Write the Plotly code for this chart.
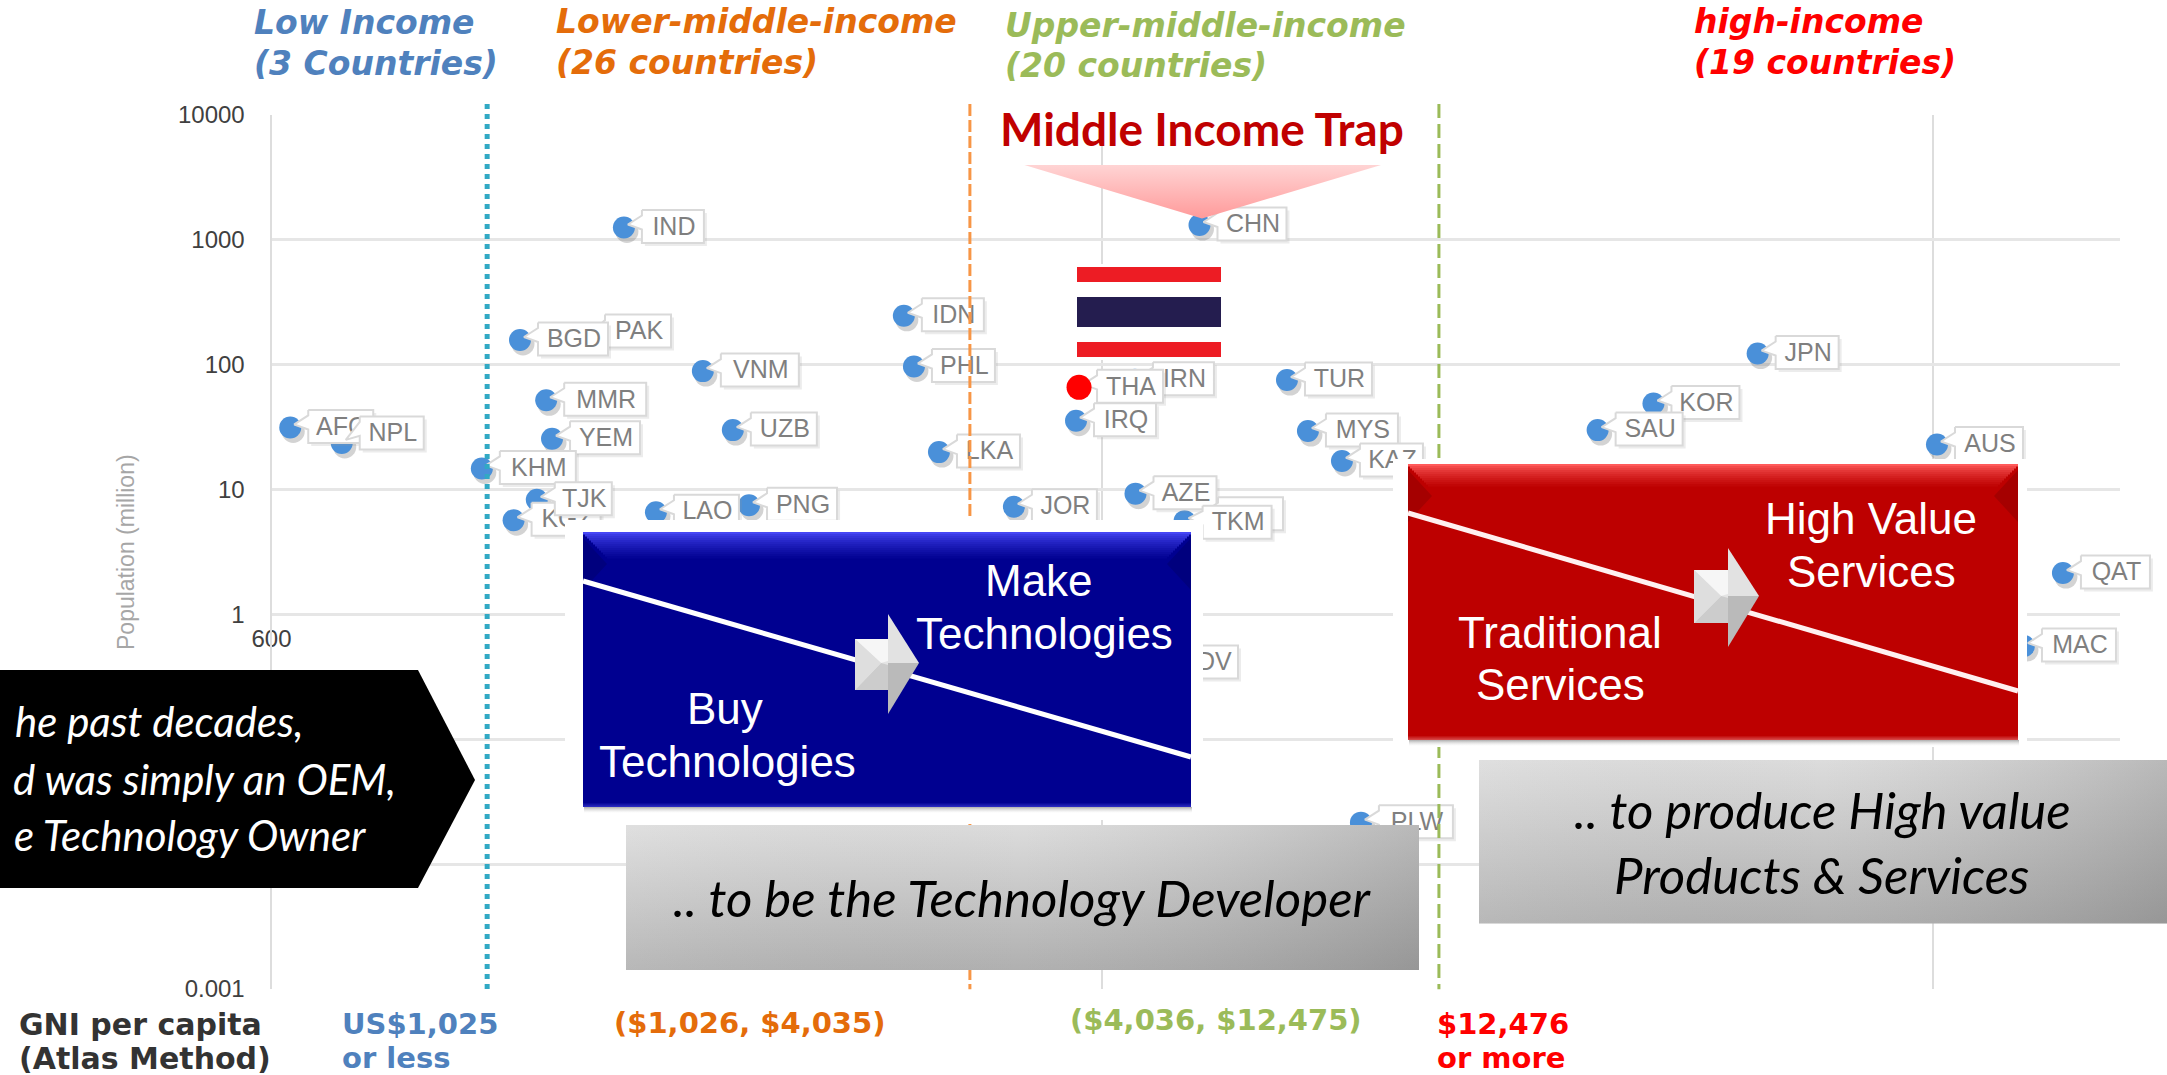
import math
import plotly.graph_objects as go

# ---------- data ----------
COUNTRIES = ["AFG","NPL","IND","PAK","BGD","VNM","MMR","YEM","UZB","KHM","KGZ","TJK","LAO","PNG",
             "IDN","PHL","LKA","JOR","CHN","TUR","IRN","THA","IRQ","MYS","KAZ","AZE","","TKM","MDV",
             "JPN","KOR","SAU","AUS","QAT","MAC","PLW"]
GNI = [632,729,1594,1439,1195,1984,1285,1306,2156,1075,1174,1252,1742,2255,
       3464,3562,3818,4700,7862,10020,6574,5630,5583,10620,11670,6584,7873,7544,6854,
       36950,27680,23710,60750,86140,77320,12300]
POP = [31.5,23.7,1257,170,158,89,52,25.6,30,14.8,5.7,8.3,6.6,7.5,
       247,97,20,7.3,1315,75.5,76,66,35.7,29.5,17,9.3,6.3,5.6,0.41,
       123,49,30,23,2.15,0.56,0.0216]
LABEL_WIDTHS = [65,64,62,66,70,78,82,70,66,76,69,57,65,70,
                62,63,63,65,69,67,61,66,62,72,63,63,65,69,70,
                63,68,67,68,69,74,74]
THRESHOLDS = [1091, 4160, 15270]
THRESHOLD_COLORS = ["#31a9c4", "#f79646", "#9bbb59"]
THRESHOLD_DASH = ["5px,5px", "12px,4px", "14px,6px"]
Y_TICKS = [0.001, 0.01, 0.1, 1, 10, 100, 1000, 10000]
Y_TICK_TEXT = ["0.001", "", "", "1", "10", "100", "1000", "10000"]
X_TICKS = [600, 6000, 60000]
X_TICK_SHOWN = [600]

W, H = 2167, 1075
# axis calibration (pixels)
X0_PX, X1_PX, DEC_X = 271.5, 2120.0, 830.5
Y_TOP_PX, Y_BOT_PX, DEC_Y = 115.0, 989.0, 124.9
LX0 = math.log10(600)

def gni_at(px):
    return 10 ** (LX0 + (px - X0_PX) / DEC_X)
def pop_at(py):
    return 10 ** (4 - (py - Y_TOP_PX) / DEC_Y)
def px_of(g):
    return X0_PX + (math.log10(g) - LX0) * DEC_X
def py_of(p):
    return Y_TOP_PX + (4 - math.log10(p)) * DEC_Y

fig = go.Figure()
SKIP = dict(hoverinfo="skip", showlegend=False)

# ---------- visible axes ----------
fig.add_trace(go.Scatter(x=X_TICK_SHOWN, y=[pop_at(641)], text=[str(v) for v in X_TICK_SHOWN], mode="text",
                         textfont=dict(family="Liberation Sans", size=24, color="#404040"),
                         cliponaxis=False, xaxis="x", yaxis="y", **SKIP))

# ---------- markers, on an invisible page-wide log pair aligned with the axes ----------
AX2 = dict(xaxis="x2", yaxis="y2", cliponaxis=False)
mk = [i for i, c in enumerate(COUNTRIES) if c and c != "THA"]
fig.add_trace(go.Scatter(x=[gni_at(px_of(GNI[i]) + 3) for i in mk], y=[pop_at(py_of(POP[i]) + 4) for i in mk],
                         mode="markers", marker=dict(size=23, color="rgba(110,110,110,0.30)", line=dict(width=0)),
                         **AX2, **SKIP))
fig.add_trace(go.Scatter(x=[GNI[i] for i in mk], y=[POP[i] for i in mk], mode="markers",
                         marker=dict(size=22, color="#4a90d9", line=dict(width=0)), **AX2, **SKIP))

# ---------- callout labels ----------
LABEL_DY = {"NPL": -9, "PAK": -4, "TKM": 2}
for c, g, p, w in zip(COUNTRIES, GNI, POP, LABEL_WIDTHS):
    mx, my = px_of(g), py_of(p)
    l = mx + 18
    r = l + w
    cy = my - 1 + LABEL_DY.get(c, 0)
    t, b = cy - 16.5, cy + 16.5
    xs_s = [l + 3, r + 3, r + 3, l + 3, l + 3]
    ys_s = [t + 3, t + 3, b + 3, b + 3, t + 3]
    fig.add_trace(go.Scatter(x=[gni_at(v) for v in xs_s], y=[pop_at(v) for v in ys_s], mode="lines",
                             fill="toself", fillcolor="rgba(150,150,150,0.18)", line=dict(width=0), **AX2, **SKIP))
    xs = [l, r, r, l, l, mx + 4, l, l]
    ys = [t, t, b, b, cy + 3, my - 3, cy - 11, t]
    fig.add_trace(go.Scatter(x=[gni_at(v) for v in xs], y=[pop_at(v) for v in ys], mode="lines",
                             fill="toself", fillcolor="#ffffff", line=dict(color="#d9d9d9", width=2), **AX2, **SKIP))
    if c:
        fig.add_trace(go.Scatter(x=[gni_at(l + w / 2 + 1)], y=[pop_at(cy + 2)], text=[c], mode="text",
                                 textposition="middle center",
                                 textfont=dict(family="Liberation Sans", size=25, color="#7f7f7f"), **AX2, **SKIP))

# Thailand marker sits on top of its neighbours
ti = COUNTRIES.index("THA")
fig.add_trace(go.Scatter(x=[GNI[ti]], y=[POP[ti]], mode="markers",
                         marker=dict(size=25, color="#ff0000", line=dict(width=0)), **AX2, **SKIP))

# income thresholds
for xv, col, dash, wd in zip(THRESHOLDS, THRESHOLD_COLORS, THRESHOLD_DASH, [5, 3, 3]):
    fig.add_trace(go.Scatter(x=[xv, xv], y=[pop_at(104), 0.001], mode="lines",
                             line=dict(color=col, width=wd, dash=dash), **AX2, **SKIP))

# ---------- slide decoration in page pixels ----------
AX3 = dict(xaxis="x3", yaxis="y3")
def poly(pts, fill=None, vgrad=None, hgrad=None):
    xs = [p[0] for p in pts] + [pts[0][0]]
    ys = [p[1] for p in pts] + [pts[0][1]]
    kw = {}
    if fill:
        kw["fillcolor"] = fill
    if vgrad:
        kw["fillgradient"] = dict(type="vertical", colorscale=vgrad, start=min(ys), stop=max(ys))
    if hgrad:
        kw["fillgradient"] = dict(type="horizontal", colorscale=hgrad, start=min(xs), stop=max(xs))
    fig.add_trace(go.Scatter(x=xs, y=ys, mode="lines", fill="toself", line=dict(width=0), **kw, **AX3, **SKIP))
def rect(x0, y0, x1, y1, **kw):
    poly([(x0, y0), (x1, y0), (x1, y1), (x0, y1)], **kw)
def stroke(x0, y0, x1, y1, color, width):
    fig.add_trace(go.Scatter(x=[x0, x1], y=[y0, y1], mode="lines", line=dict(color=color, width=width), **AX3, **SKIP))
def mix(a, b, t):
    return "#%02x%02x%02x" % tuple(round(a[k] + (b[k] - a[k]) * t) for k in range(3))

# flag
rect(1076, 264, 1222, 360, fill="#ffffff")
rect(1077, 267, 1221, 282, fill="#ed1c24")
rect(1077, 297, 1221, 327, fill="#241d4f")
rect(1077, 342, 1221, 357, fill="#ed1c24")

# trap triangle
poly([(1024.5, 165), (1381, 165), (1202, 218.5)],
     vgrad=[[0, "#ffd4d4"], [1, "#ff9a9a"]])

def bevel_box(x0, y0, x1, y1, halo, main, top, dark, edge, fade):
    hl, ht, hr, hb = halo
    rect(x0 - hl, y0 - ht, x1 + hr, y1 + hb, fill="#ffffff")
    rect(x0 + 1, y1, x1 + 1, y1 + 6, vgrad=[[0, "rgba(90,90,90,0.50)"], [1, "rgba(200,200,200,0.0)"]])
    rect(x0, y0, x1, y1, fill=mix(main, main, 0))
    dk = mix(dark, dark, 0)
    poly([(x0, y0 + 6), (x0 + 24, y0 + 32), (x0, y0 + 58)], fill=dk)
    poly([(x1, y0 + 6), (x1 - 24, y0 + 32), (x1, y0 + 58)], fill=dk)
    step = 2
    for k in range(0, fade, step):
        t = (k / fade) ** 0.7
        rect(x0 + k, y0 + k, x1 - k, y0 + k + step + 0.5, fill=mix(top, main, t))
    for k in range(4):
        rect(x0, y1 - 4 + k, x1, y1 - 3 + k, fill=mix(main, edge, (k + 1) / 4))

def arrow(sx0, sx1, sy0, sy1, hy0, hy1, tx, ty):
    cx = sx1 - 7
    rect(sx0, sy0, sx1, sy1, fill="#e4e4e4")
    poly([(sx0, sy0), (sx1, sy0), (sx1, ty - 2), (cx, ty)], fill="#f6f6f6")
    poly([(sx0, sy1), (sx1, sy1), (sx1, ty + 2), (cx, ty)], fill="#cccccc")
    poly([(sx0, sy0), (cx, ty), (sx0, sy1)], fill="#dedede")
    poly([(sx1, hy0), (tx, ty), (sx1, ty)], fill="#e2e2e2")
    poly([(sx1, hy1), (tx, ty), (sx1, ty)], fill="#bababa")

bevel_box(583, 532, 1191, 807, (18, 12, 12, 13), (0, 0, 144), (70, 70, 245), (0, 0, 126), (40, 40, 190), 26)
stroke(583, 581, 1191, 757, "#ffffff", 5)
arrow(855, 888, 639, 690, 614, 714, 919, 663)

bevel_box(1408, 464, 2018, 740, (15, 5, 9, 7), (189, 0, 0), (255, 90, 90), (165, 0, 0), (215, 70, 70), 22)
stroke(1408, 513, 2018, 691, "#fff0f0", 5)
arrow(1694, 1728, 570, 623, 548, 647, 1759, 596)

# grey captions: vertical ramp with a translucent horizontal ramp on top gives the diagonal look
def grey_box(x0, y0, x1, y1):
    rect(x0, y0, x1, y1, vgrad=[[0, "#dcdcdc"], [1, "#b0b0b0"]])
    rect(x0, y0, x1, y1, hgrad=[[0, "rgba(255,255,255,0.10)"], [0.5, "rgba(128,128,128,0.0)"], [1, "rgba(60,60,60,0.22)"]])
grey_box(626, 825, 1419, 970)
grey_box(1479, 760, 2167, 923.5)

# black pentagon
poly([(-10, 670), (418, 670), (475, 780), (418, 888), (-10, 888)], fill="#000000")

# ---------- text ----------
def note(x, y, text, size, color, family, anchor="left", bold=False, italic=False, angle=0):
    if bold:
        text = "<b>" + text + "</b>"
    if italic:
        text = "<i>" + text + "</i>"
    fig.add_annotation(x=x, y=y, xref="x3", yref="y3", text=text, showarrow=False, xanchor=anchor, yanchor="middle",
                       textangle=angle, font=dict(family=family, size=size, color=color))

for x, y, s, c in [(252, 22, "Low Income", "#4f81bd"), (252, 63, "(3 Countries)", "#4f81bd"),
                   (554, 21, "Lower-middle-income", "#e46c0a"), (554, 62, "(26 countries)", "#e46c0a"),
                   (1003, 25, "Upper-middle-income", "#9bbb59"), (1003, 65, "(20 countries)", "#9bbb59"),
                   (1692, 21, "high-income", "#ff0000"), (1692, 62, "(19 countries)", "#ff0000")]:
    note(x, y, s, 33, c, "DejaVu Sans", bold=True, italic=True)

note(1202, 128, "Middle Income Trap", 46, "#c00000", "Lato", anchor="center", bold=True)

for x, y, s in [(1039, 580, "Make"), (1044, 633, "Technologies"), (725, 708, "Buy"), (727, 761, "Technologies"),
                (1871, 518, "High Value"), (1871, 571, "Services"), (1560, 632, "Traditional"), (1560, 684, "Services")]:
    note(x, y, s, 44, "#ffffff", "Liberation Sans", anchor="center")

note(1022, 897, ".. to be the Technology Developer", 51, "#000000", "Lato", anchor="center", italic=True)
note(1822, 809, ".. to produce High value", 51, "#000000", "Lato", anchor="center", italic=True)
note(1822, 874, "Products &amp; Services", 51, "#000000", "Lato", anchor="center", italic=True)

note(305, 721, "he past decades,", 42, "#ffffff", "Lato", anchor="right", italic=True)
note(398, 779, "d was simply an OEM,", 42, "#ffffff", "Lato", anchor="right", italic=True)
note(368, 835, "e Technology Owner", 42, "#ffffff", "Lato", anchor="right", italic=True)

note(126, 552, "Population (million)", 23, "#a6a6a6", "Liberation Sans", anchor="center", angle=-90)

for x, y, s, c, sz in [(17, 1024, "GNI per capita", "#333333", 30), (17, 1058, "(Atlas Method)", "#333333", 30),
                       (340, 1024, "US$1,025", "#4f81bd", 29), (340, 1058, "or less", "#4f81bd", 29),
                       (612, 1023, "($1,026, $4,035)", "#e46c0a", 29), (1068, 1020, "($4,036, $12,475)", "#9bbb59", 29),
                       (1435, 1024, "$12,476", "#ff0000", 29), (1435, 1058, "or more", "#ff0000", 29)]:
    note(x, y, s, sz, c, "DejaVu Sans", bold=True)

# ---------- layout ----------
hidden = dict(visible=False, fixedrange=True, automargin=False)
fig.update_layout(
    template="none",
    width=W, height=H, margin=dict(l=0, r=0, t=0, b=0, pad=0),
    paper_bgcolor="#ffffff", plot_bgcolor="rgba(0,0,0,0)", showlegend=False,
    xaxis=dict(type="log", domain=[X0_PX / W, X1_PX / W], range=[LX0, LX0 + (X1_PX - X0_PX) / DEC_X],
               tickvals=X_TICKS, showticklabels=False, ticks="", showgrid=True, gridcolor="#dddddd", gridwidth=2,
               zeroline=False, showline=False, anchor="y", automargin=False),
    yaxis=dict(type="log", domain=[1 - Y_BOT_PX / H, 1 - Y_TOP_PX / H], range=[-3, 4],
               tickvals=Y_TICKS, ticktext=Y_TICK_TEXT, ticks="outside", ticklen=20, tickcolor="rgba(0,0,0,0)",
               tickfont=dict(family="Liberation Sans", size=24, color="#404040"),
               showgrid=True, gridcolor="#e6e6e6", gridwidth=3, zeroline=False,
               showline=True, linecolor="#dddddd", linewidth=2, anchor="x", automargin=False),
    xaxis2=dict(type="log", domain=[0, 1], anchor="y2",
                range=[LX0 - X0_PX / DEC_X, LX0 + (W - X0_PX) / DEC_X], **hidden),
    yaxis2=dict(type="log", domain=[0, 1], anchor="x2",
                range=[4 - (H - Y_TOP_PX) / DEC_Y, 4 + Y_TOP_PX / DEC_Y], **hidden),
    xaxis3=dict(domain=[0, 1], range=[0, W], anchor="y3", **hidden),
    yaxis3=dict(domain=[0, 1], range=[H, 0], anchor="x3", **hidden),
)

fig.write_html("out.html", config=dict(displayModeBar=False),
               post_script="document.body.style.margin='0';document.documentElement.style.overflow='hidden';")
